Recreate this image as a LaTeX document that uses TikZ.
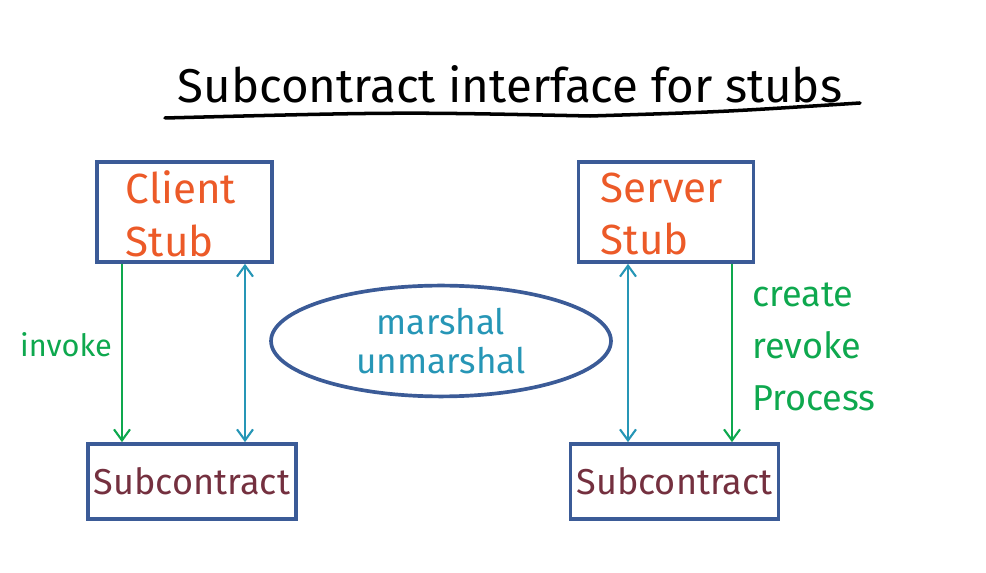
\documentclass[tikz,border=0pt]{standalone}
\usepackage{fontspec}
\setmainfont{Fira Sans}
\usepackage{tikz}
\usepackage{xcolor}
\usetikzlibrary{positioning, arrows.meta, shapes.geometric}
\definecolor{scblue}{RGB}{59, 91, 151}
\definecolor{scorange}{RGB}{236, 90, 40}
\definecolor{scmaroon}{RGB}{116, 48, 63}
\definecolor{scgreen}{RGB}{14, 168, 78}
\definecolor{scteal}{RGB}{38, 150, 182}
\tikzset{
    stubbox/.style={draw=scblue, line width=2.1pt, minimum width=3.5cm, minimum height=2cm},
    subbox/.style={draw=scblue, line width=2.1pt, minimum width=4.16cm, minimum height=1.5cm, text=scmaroon, font=\fontsize{20.5}{24}\selectfont},
    stubtext/.style={text=scorange, align=left, font=\fontsize{24}{30}\selectfont},
    greenlabel/.style={text=scgreen, align=left, font=\fontsize{20.5}{29.5}\selectfont},
    invokearrow/.style={draw=scgreen, line width=1.2pt, -{Straight Barb[length=2.2mm, width=3.2mm]}},
    marshalarrow/.style={draw=scteal, line width=1.2pt, {Straight Barb[length=2.2mm, width=3.2mm]}-{Straight Barb[length=2.2mm, width=3.2mm]}}
}
\begin{document}
\begin{tikzpicture}[x=0.02cm, y=-0.02cm]
    \useasboundingbox (0,0) rectangle (986,573);
    % title
    \node[font=\fontsize{27}{30}\selectfont] (title) at (510,84) {Subcontract interface for stubs};
    \coordinate (ula) at (165,118);
    \coordinate (ulm) at (590,116);
    \coordinate (ulb) at (860,103);
    \draw[line width=2pt, line cap=round] (ula) .. controls (400,112) .. (ulm);
    \draw[line width=2pt, line cap=round] (ulm) .. controls (720,112) .. (ulb);
    % stub boxes
    \node[stubbox] (client) at (184.5,212) {};
    \node[stubtext] at (181,214) {Client\\Stub};
    \node[stubbox] (server) at (666,212) {};
    \node[stubtext] at (662,214) {Server\\Stub};
    % subcontract boxes
    \node[subbox] (subl) at (192,481.5) {Subcontract};
    \node[subbox] (subr) at (674.5,481.5) {Subcontract};
    % marshal ellipse
    \node[ellipse, draw=scblue, line width=2.1pt, minimum width=6.8cm, minimum height=1.36cm,
          text=scteal, align=center, font=\fontsize{20}{22.7}\selectfont] (marsh) at (441,341) {marshal\\unmarshal};
    % arrows
    \coordinate (lx1) at (122,0);
    \coordinate (lx2) at (245,0);
    \coordinate (rx1) at (628,0);
    \coordinate (rx2) at (732,0);
    \draw[invokearrow] (client.south -| lx1) -- (subl.north -| lx1);
    \draw[marshalarrow] (client.south -| lx2) -- (subl.north -| lx2);
    \draw[marshalarrow] (server.south -| rx1) -- (subr.north -| rx1);
    \draw[invokearrow] (server.south -| rx2) -- (subr.north -| rx2);
    % labels
    \node[greenlabel, font=\fontsize{17.5}{20}\selectfont] (inv) at (66,345) {invoke};
    \node[greenlabel, anchor=west] (crp) at (746,347) {create\\revoke\\Process};
\end{tikzpicture}
\end{document}
